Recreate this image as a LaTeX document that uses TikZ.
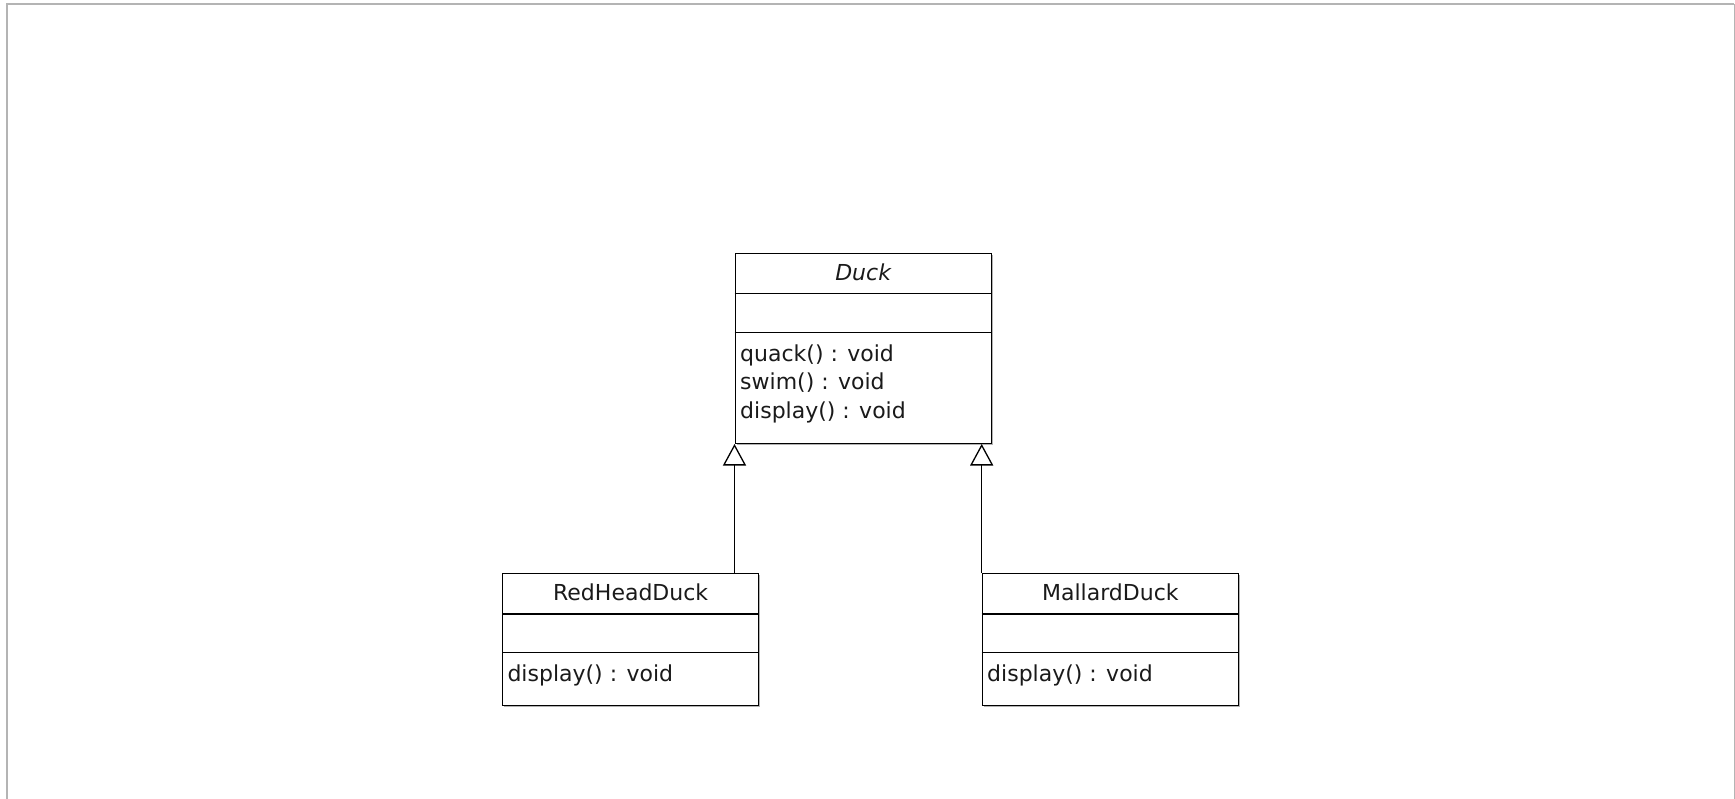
\documentclass[tikz,border=0pt]{standalone}
\usepackage{fontspec}
\setmainfont{DejaVu Sans}
\usetikzlibrary{arrows.meta,calc,shadows}
\definecolor{framegray}{HTML}{B4B4B4}
\definecolor{ink}{HTML}{1A1A1A}
\begin{document}
\begin{tikzpicture}[x=1pt,y=-1pt,
  classbox/.style={draw=black, fill=white, line width=1.3pt, inner sep=0pt,
    anchor=north west, minimum width=256pt, minimum height=132.3pt,
    drop shadow={shadow xshift=1.8pt, shadow yshift=-1.8pt, fill=black, opacity=0.3}},
  sepline/.style={draw=black, line width=1.3pt},
  title/.style={anchor=base, text=ink, inner sep=0pt, font=\fontsize{22}{26}\selectfont},
  member/.style={anchor=base west, text=ink, inner sep=0pt, font=\fontsize{22}{26}\selectfont},
  generalize/.style={draw=black, line width=1.3pt,
    -{Triangle[open, length=21.5pt, width=23pt, fill=white]}}
]
\useasboundingbox (0,0) rectangle (1735,799);
\fill[white] (0,0) rectangle (1735,799);

% page frame
\draw[framegray, line width=1.8pt] (6.9,799) -- (6.9,4.2) -- (1734.4,4.2);
\draw[framegray, line width=1.2pt] (1734.4,4.2) -- (1734.4,799);

% abstract class Duck
\node[classbox, minimum height=190pt] (duck) at (734.5,252.7) {};
\draw[sepline] ($(duck.north west)+(0,40.6)$) -- ($(duck.north east)+(0,40.6)$);
\draw[sepline] ($(duck.north west)+(0,80)$) -- ($(duck.north east)+(0,80)$);
\node[title, font=\fontsize{22}{26}\selectfont\itshape] (duckname) at ($(duck.north)+(0,27.5)$) {Duck};
\node[member] (duckquack) at ($(duck.north west)+(5.5,109)$) {quack() : void};
\node[member] (duckswim) at ($(duck.north west)+(5.5,137.3)$) {swim() : void};
\node[member] (duckdisplay) at ($(duck.north west)+(5.5,165.6)$) {display() : void};

% subclass RedHeadDuck
\node[classbox] (red) at (502,572.7) {};
\draw[sepline] ($(red.north west)+(0,41.3)$) -- ($(red.north east)+(0,41.3)$);
\draw[sepline] ($(red.north west)+(0,79.6)$) -- ($(red.north east)+(0,79.6)$);
\node[title] (redname) at ($(red.north)+(0,28)$) {RedHeadDuck};
\node[member] (reddisplay) at ($(red.north west)+(5.3,109)$) {display() : void};

% subclass MallardDuck
\node[classbox] (mallard) at (981.7,572.7) {};
\draw[sepline] ($(mallard.north west)+(0,41.3)$) -- ($(mallard.north east)+(0,41.3)$);
\draw[sepline] ($(mallard.north west)+(0,79.6)$) -- ($(mallard.north east)+(0,79.6)$);
\node[title] (mallardname) at ($(mallard.north)+(0,28)$) {MallardDuck};
\node[member] (mallarddisplay) at ($(mallard.north west)+(5.3,109)$) {display() : void};

% generalization arrows
\draw[generalize] (red.north -| duck.south west) -- (duck.south west);
\draw[generalize] (mallard.north west) -- (mallard.north west |- duck.south);
\end{tikzpicture}
\end{document}
